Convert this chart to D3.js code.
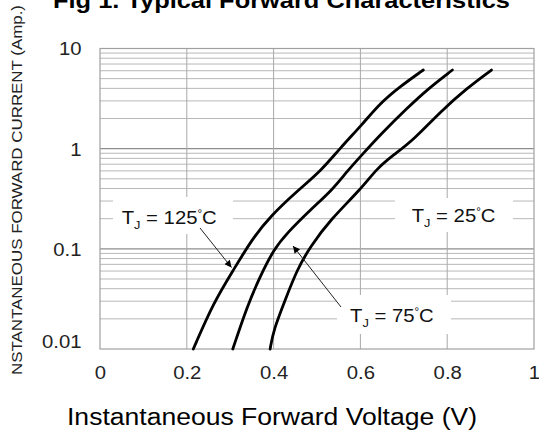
<!DOCTYPE html>
<html>
<head>
<meta charset="utf-8">
<script src="https://cdn.jsdelivr.net/npm/d3@7"></script>
<style>
  html, body { margin: 0; padding: 0; background: #fff; }
  svg { display: block; }
  text { font-family: Arial, "Liberation Sans", Helvetica, sans-serif; }
</style>
</head>
<body>
<svg id="chart" width="539" height="437"></svg>
<script>
// ---------- data ----------
const xTicks = [0, 0.2, 0.4, 0.6, 0.8, 1];
const xTickLabels = ["0", "0.2", "0.4", "0.6", "0.8", "1"];
const yTicks = [0.01, 0.1, 1, 10];
const yTickLabels = ["0.01", "0.1", "1", "10"];

const voltage125 = [0.215, 0.261, 0.308, 0.350, 0.392, 0.458, 0.508, 0.554, 0.604, 0.646, 0.692, 0.745];
const current125 = [0.01, 0.0288, 0.0621, 0.124, 0.211, 0.39, 0.593, 1.02, 1.74, 2.86, 4.19, 6.1];

const voltage75 = [0.306, 0.339, 0.369, 0.400, 0.431, 0.485, 0.536, 0.569, 0.604, 0.646, 0.708, 0.758, 0.812];
const current75 = [0.01, 0.0267, 0.0532, 0.098, 0.144, 0.246, 0.39, 0.593, 0.871, 1.38, 2.55, 4.03, 6.1];

const voltage25 = [0.392, 0.400, 0.427, 0.454, 0.485, 0.531, 0.600, 0.639, 0.677, 0.723, 0.785, 0.846, 0.902];
const current25 = [0.01, 0.0156, 0.0311, 0.062, 0.106, 0.196, 0.39, 0.642, 0.871, 1.23, 2.36, 4.03, 6.1];

const seriesNames = ["125", "75", "25"];

// ---------- layout ----------
const svg = d3.select("#chart");
const SX = 1.16; // horizontal text stretch of the original picture
const x = d3.scaleLinear().domain([0, 1]).range([100, 534]);
const y = d3.scaleLog().domain([0.01, 10]).range([349, 48.5]);

// ---------- grid ----------
const grid = svg.append("g");
const minor = [];
[0.01, 0.1, 1].forEach(d => { for (let k = 2; k <= 9; k++) minor.push(d * k); });
grid.selectAll("line.minor").data(minor).enter().append("line")
  .attr("x1", x(0)).attr("x2", x(1))
  .attr("y1", d => y(d)).attr("y2", d => y(d))
  .attr("stroke", "#b8b8b8").attr("stroke-width", 1);
grid.selectAll("line.major").data([0.1, 1]).enter().append("line")
  .attr("x1", x(0)).attr("x2", x(1))
  .attr("y1", d => y(d)).attr("y2", d => y(d))
  .attr("stroke", "#8e8e8e").attr("stroke-width", 1.2);
grid.selectAll("line.vert").data(xTicks.slice(1, -1)).enter().append("line")
  .attr("x1", d => x(d)).attr("x2", d => x(d))
  .attr("y1", y(10)).attr("y2", y(0.01))
  .attr("stroke", "#a8a8a8").attr("stroke-width", 1);
grid.append("rect")
  .attr("x", x(0)).attr("y", y(10))
  .attr("width", x(1) - x(0)).attr("height", y(0.01) - y(10))
  .attr("fill", "none").attr("stroke", "#a0a0a0").attr("stroke-width", 1.2);

// white boxes behind the temperature labels
const boxes = [[113, 197, 120, 37], [395, 198, 118, 34], [337, 295, 114, 39]];
svg.selectAll("rect.box").data(boxes).enter().append("rect")
  .attr("x", d => d[0]).attr("y", d => d[1]).attr("width", d => d[2]).attr("height", d => d[3])
  .attr("fill", "#fff");

// ---------- axes ----------
const xAxis = svg.append("g").attr("transform", `translate(0,${y(0.01)})`)
  .call(d3.axisBottom(x).tickValues(xTicks).tickFormat((d, i) => xTickLabels[i]).tickSize(0));
xAxis.select(".domain").remove();
xAxis.selectAll("text")
  .attr("y", 30).attr("dy", 0)
  .attr("font-size", 17.5).attr("fill", "#222")
  .attr("font-family", "Arial, 'Liberation Sans', sans-serif")
  .attr("transform", `scale(${SX},1)`);

const yAxis = svg.append("g").attr("transform", `translate(${x(0)},0)`)
  .call(d3.axisLeft(y).tickValues(yTicks).tickFormat((d, i) => yTickLabels[i]).tickSize(0));
yAxis.select(".domain").remove();
yAxis.selectAll("text")
  .attr("x", -18.5 / SX).attr("dy", d => d === 0.01 ? "-0.06em" : "0.37em")
  .attr("font-size", 17.5).attr("fill", "#222")
  .attr("font-family", "Arial, 'Liberation Sans', sans-serif")
  .attr("transform", `scale(${SX},1)`);

// ---------- curves ----------
const curves = [
  voltage125.map((v, i) => [v, current125[i]]),
  voltage75.map((v, i) => [v, current75[i]]),
  voltage25.map((v, i) => [v, current25[i]])
];
const line = d3.line().x(d => x(d[0])).y(d => y(d[1])).curve(d3.curveBasis);
svg.selectAll("path.curve").data(curves).enter().append("path")
  .attr("d", line)
  .attr("fill", "none").attr("stroke", "#000").attr("stroke-width", 2.8)
  .attr("stroke-linecap", "round");

// ---------- annotations ----------
function label(px, py, temp) {
  const g = svg.append("g").attr("transform", `translate(${px},${py}) scale(${SX},1)`);
  const t = g.append("text").attr("font-size", 17.5).attr("fill", "#111");
  t.append("tspan").text("T");
  t.append("tspan").attr("font-size", 11).attr("dy", 5).text("J");
  t.append("tspan").attr("dy", -5).text(" = " + temp);
  t.append("tspan").attr("font-size", 10).attr("dy", -7).text("°");
  t.append("tspan").attr("dy", 7).text("C");
}
label(121.7, 224, seriesNames[0]);
label(411.7, 221.5, seriesNames[2]);
label(350, 321.5, seriesNames[1]);

svg.append("defs").append("marker")
  .attr("id", "ah").attr("viewBox", "0 0 10 10").attr("refX", 10).attr("refY", 5)
  .attr("markerWidth", 11).attr("markerHeight", 7).attr("markerUnits", "userSpaceOnUse")
  .attr("orient", "auto")
  .append("path").attr("d", "M0,0 L10,5 L0,10 Z").attr("fill", "#000");

const arrows = [[200, 228, 231.5, 267.5], [341, 307, 293, 246]];
svg.selectAll("line.arrow").data(arrows).enter().append("line")
  .attr("x1", d => d[0]).attr("y1", d => d[1]).attr("x2", d => d[2]).attr("y2", d => d[3])
  .attr("stroke", "#222").attr("stroke-width", 1).attr("marker-end", "url(#ah)");

// ---------- titles ----------
svg.append("text")
  .attr("x", 53).attr("y", 7.5)
  .attr("font-size", 22).attr("font-weight", "bold").attr("fill", "#000")
  .attr("textLength", 457).attr("lengthAdjust", "spacingAndGlyphs")
  .text("Fig 1. Typical Forward Characteristics");

svg.append("text")
  .attr("x", 67).attr("y", 425)
  .attr("font-size", 23).attr("fill", "#000")
  .attr("textLength", 410).attr("lengthAdjust", "spacingAndGlyphs")
  .text("Instantaneous Forward Voltage (V)");

svg.append("text")
  .attr("transform", "translate(22,375) rotate(-90)")
  .attr("x", 0).attr("y", 0)
  .attr("font-size", 14).attr("fill", "#222")
  .attr("textLength", 370).attr("lengthAdjust", "spacingAndGlyphs")
  .text("NSTANTANEOUS FORWARD CURRENT (Amp.)");
</script>
</body>
</html>
